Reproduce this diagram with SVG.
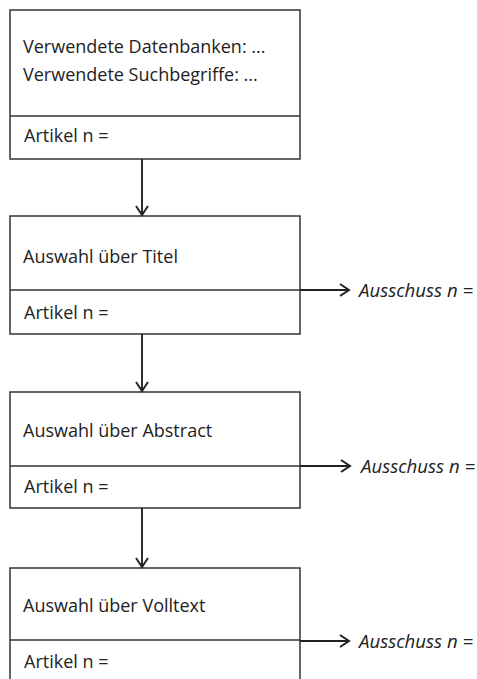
<svg xmlns="http://www.w3.org/2000/svg" width="477" height="679" viewBox="0 0 477 679">
<style>
.box{fill:#fff;stroke:#333;stroke-width:1.5}
.div{stroke:#333;stroke-width:1.5}
.t{font-family:"Open Sans","Liberation Sans",sans-serif;font-size:18px;fill:#222}
.i{font-style:italic;font-size:18.6px}
.c{stroke:#222;stroke-width:1.9;fill:none}
</style>
<defs>
<marker id="ah" viewBox="0 0 14 14" refX="12" refY="7" markerWidth="14" markerHeight="14" markerUnits="userSpaceOnUse" orient="auto">
<path d="M3,1 L12,7 L3,13" fill="none" stroke="#222" stroke-width="2"/>
</marker>
</defs>
<rect width="477" height="679" fill="#fff"/>
<g id="n1">
<rect class="box" x="10" y="10" width="290" height="149"/>
<line class="div" x1="10" y1="116" x2="300" y2="116"/>
<text class="t" x="23" y="53">Verwendete Datenbanken: ...</text>
<text class="t" x="23" y="81">Verwendete Suchbegriffe: ...</text>
<text class="t" x="24" y="142">Artikel n =</text>
</g>
<g id="n2">
<rect class="box" x="10" y="216" width="290" height="118"/>
<line class="div" x1="10" y1="290" x2="300" y2="290"/>
<text class="t" x="23" y="263">Auswahl über Titel</text>
<text class="t" x="24" y="319">Artikel n =</text>
</g>
<g id="n3">
<rect class="box" x="10" y="392" width="290" height="116"/>
<line class="div" x1="10" y1="466" x2="300" y2="466"/>
<text class="t" x="23" y="437">Auswahl über Abstract</text>
<text class="t" x="24" y="493">Artikel n =</text>
</g>
<g id="n4">
<rect class="box" x="10" y="568" width="290" height="120"/>
<line class="div" x1="10" y1="640" x2="300" y2="640"/>
<text class="t" x="23" y="612">Auswahl über Volltext</text>
<text class="t" x="24" y="668">Artikel n =</text>
</g>
<g id="out">
<text class="t i" x="359" y="297">Ausschuss n =</text>
<text class="t i" x="361" y="473">Ausschuss n =</text>
<text class="t i" x="359" y="648">Ausschuss n =</text>
</g>
<g id="connectors">
<line class="c" x1="142" y1="159" x2="142" y2="215" marker-end="url(#ah)"/>
<line class="c" x1="142" y1="334" x2="142" y2="391" marker-end="url(#ah)"/>
<line class="c" x1="142" y1="508" x2="142" y2="567" marker-end="url(#ah)"/>
<line class="c" x1="300" y1="290" x2="349" y2="290" marker-end="url(#ah)"/>
<line class="c" x1="300" y1="466" x2="350" y2="466" marker-end="url(#ah)"/>
<line class="c" x1="300" y1="641" x2="349" y2="641" marker-end="url(#ah)"/>
</g>
</svg>
